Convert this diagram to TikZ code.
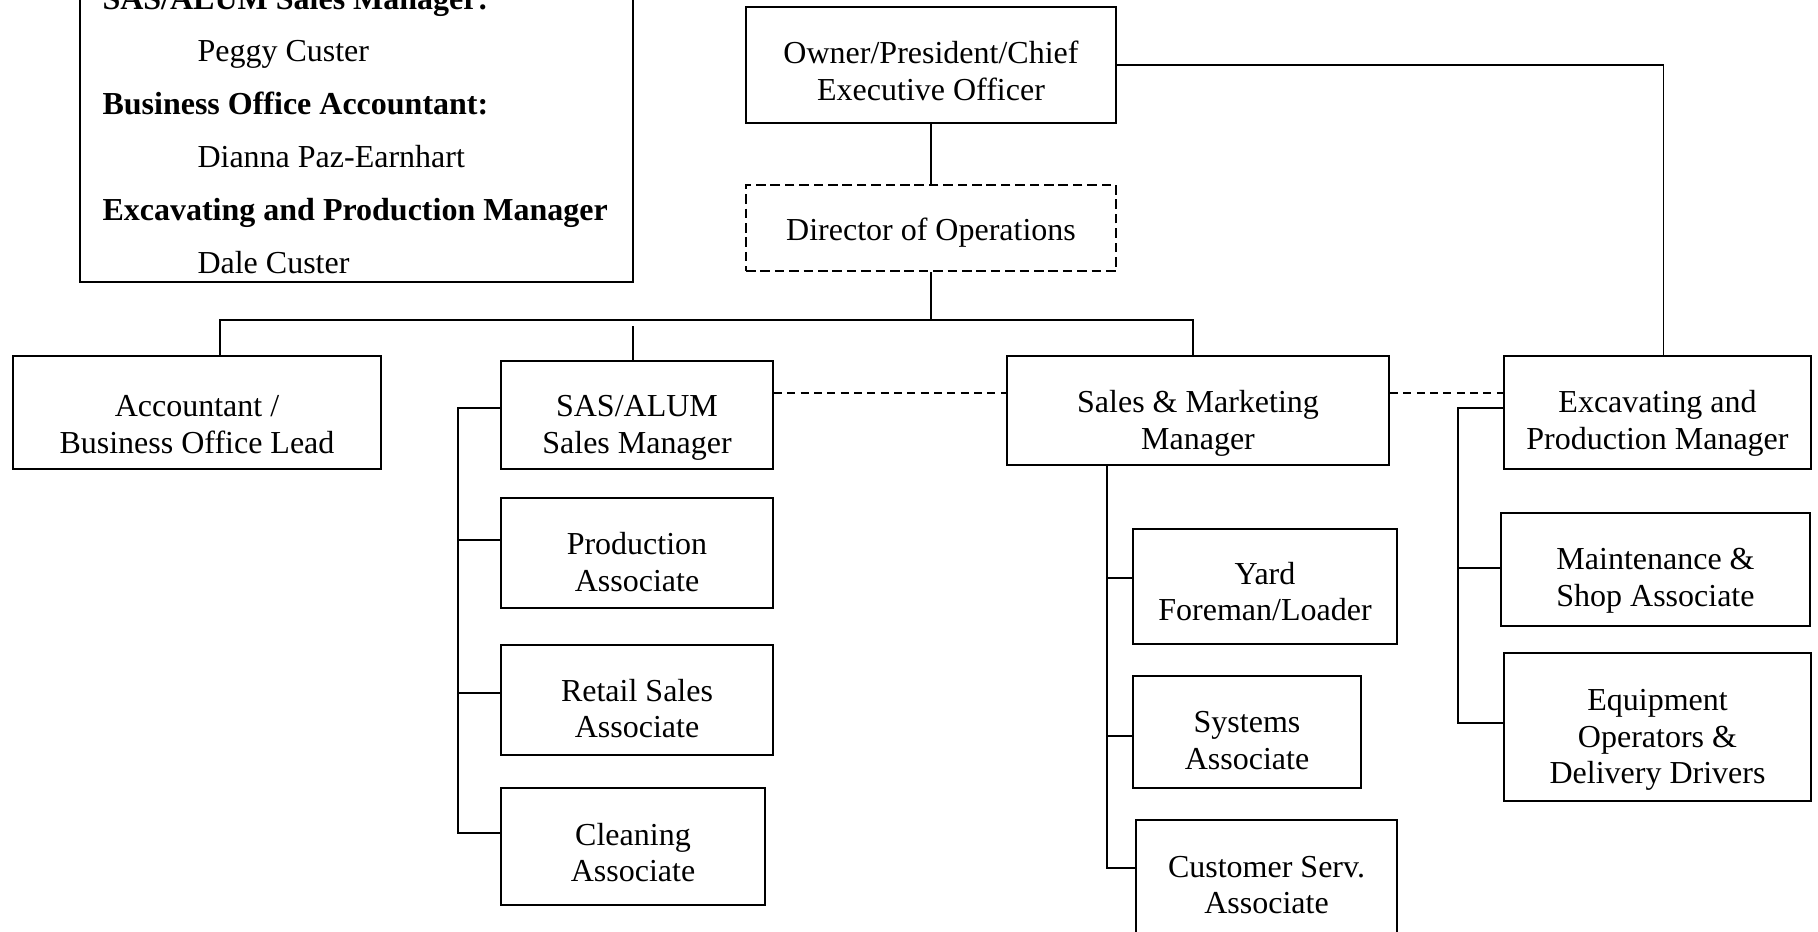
\documentclass[tikz,border=0pt]{standalone}
\usepackage{fontspec}
\setmainfont{Liberation Serif}
\usetikzlibrary{fit,calc}
\begin{document}
\begin{tikzpicture}[x=0.375pt,y=-0.375pt,
  box/.style={draw, line width=0.8pt, inner sep=0pt},
  dbox/.style={box, dash pattern=on 3.6pt off 1.8pt},
  txt/.style={inner sep=0pt, align=center, anchor=center, font=\fontsize{12}{13.7}\selectfont},
  ltext/.style={inner sep=0pt, anchor=base west, font=\fontsize{12}{13.7}\selectfont},
  lbold/.style={ltext, font=\fontsize{12}{13.7}\selectfont\bfseries},
  conn/.style={line width=0.65pt},
  dconn/.style={line width=0.7pt, dash pattern=on 3pt off 2pt}]
\useasboundingbox (0,0) rectangle (1818,931);
\clip (0,0) rectangle (1818,931);

% legend
\node[box, fit={(80,-60) (633,282)}] (legend) {};
\node[lbold] (lg1) at (102,9.5) {SAS/ALUM Sales Manager:};
\node[ltext] (lg2) at (197,62) {Peggy Custer};
\node[lbold] (lg3) at (102,115) {Business Office Accountant:};
\node[ltext] (lg4) at (197,168) {Dianna Paz-Earnhart};
\node[lbold] (lg5) at (102,220) {Excavating and Production Manager};
\node[ltext] (lg6) at (197,273) {Dale Custer};

% boxes
\node[box, fit={(746,7) (1116,123)}] (owner) {};
\node[dbox, fit={(746,185) (1116,271)}] (dir) {};
\node[box, fit={(13,356) (381,469)}] (acc) {};
\node[box, fit={(501,361) (773,469)}] (sas) {};
\node[box, fit={(501,498) (773,608)}] (prod) {};
\node[box, fit={(501,645) (773,755)}] (retail) {};
\node[box, fit={(501,788) (765,905)}] (clean) {};
\node[box, fit={(1007,356) (1389,465)}] (sm) {};
\node[box, fit={(1504,356) (1811,469)}] (exc) {};
\node[box, fit={(1133,529) (1397,644)}] (yard) {};
\node[box, fit={(1133,676) (1361,788)}] (sys) {};
\node[box, fit={(1136,820) (1397,935)}] (cust) {};
\node[box, fit={(1501,513) (1810,626)}] (maint) {};
\node[box, fit={(1504,653) (1811,801)}] (equip) {};

% box texts
\node[txt] (t-owner) at ($(owner.center)+(0,6)$) {Owner/President/Chief\\Executive Officer};
\node[txt] (t-dir) at ($(dir.center)+(0,5)$) {Director of Operations};
\node[txt] (t-acc) at ($(acc.center)+(0,12)$) {Accountant /\\Business Office Lead};
\node[txt] (t-sas) at ($(sas.center)+(0,13)$) {SAS/ALUM\\Sales Manager};
\node[txt] (t-prod) at ($(prod.center)+(0,9)$) {Production\\Associate};
\node[txt] (t-retail) at ($(retail.center)+(0,8.5)$) {Retail Sales\\Associate};
\node[txt] (t-clean) at ($(clean.center)+(0,6)$) {Cleaning\\Associate};
\node[txt] (t-sm) at ($(sm.center)+(0,13)$) {Sales \& Marketing\\Manager};
\node[txt] (t-exc) at ($(exc.center)+(0,11)$) {Excavating and\\Production Manager};
\node[txt] (t-yard) at ($(yard.center)+(0,5)$) {Yard\\Foreman/Loader};
\node[txt] (t-sys) at ($(sys.center)+(0,8.5)$) {Systems\\Associate};
\node[txt] (t-cust) at ($(cust.center)+(0,7.5)$) {Customer Serv.\\Associate};
\node[txt] (t-maint) at ($(maint.center)+(0,11)$) {Maintenance \&\\Shop Associate};
\node[txt] (t-equip) at ($(equip.center)+(0,13)$) {Equipment\\Operators \&\\Delivery Drivers};

% connectors
\draw[conn] (owner.south) -- (dir.north);
\draw[conn] (owner.east) -| ($(exc.north)+(6,0)$);
\coordinate (busL) at (220,320);
\coordinate (busR) at (1193,320);
\draw[conn] (acc.north -| busL) -- (busL) -- (busR) -- (sm.north -| busR);
\draw[conn] (dir.south) -- (dir.south |- busL);
\coordinate (sasTop) at (633,326);
\draw[conn] (sasTop) -- (sas.north -| sasTop);

\draw[dconn] (sas.east |- 0,393) -- (sm.west |- 0,393);
\draw[dconn] (sm.east |- 0,393) -- (exc.west |- 0,393);

\draw[conn] (sas.west |- 0,408) -- (458,408) -- (458,833) -- (clean.west |- 0,833);
\draw[conn] (458,540) -- (prod.west |- 0,540);
\draw[conn] (458,693) -- (retail.west |- 0,693);

\draw[conn] (sm.south -| 1107,0) -- (1107,868) -- (cust.west |- 0,868);
\draw[conn] (1107,578) -- (yard.west |- 0,578);
\draw[conn] (1107,736) -- (sys.west |- 0,736);

\draw[conn] (exc.west |- 0,408) -- (1458,408) -- (1458,723) -- (equip.west |- 0,723);
\draw[conn] (1458,568) -- (maint.west |- 0,568);
\end{tikzpicture}
\end{document}
